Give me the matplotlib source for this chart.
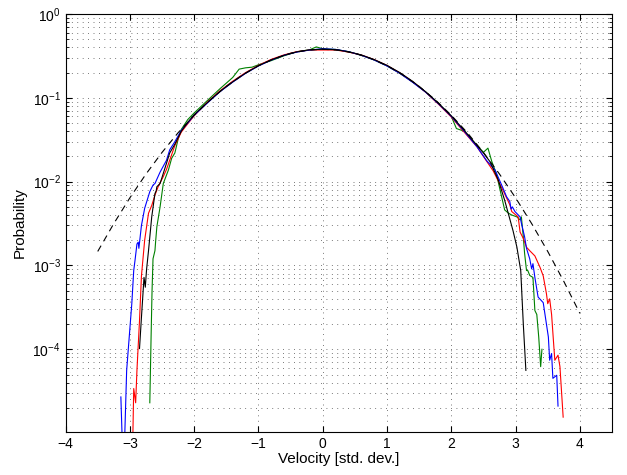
import numpy as np
import matplotlib
matplotlib.use("Agg")
import matplotlib.pyplot as plt
from matplotlib.ticker import LogLocator, NullFormatter, FixedLocator

plt.rcParams['font.family'] = ['Liberation Sans', 'DejaVu Sans']

#----------------------------------------------------------------------
# data (x in std. dev., y probability)
#----------------------------------------------------------------------
blue_x = [-3.14, -3.11, -3.09, -3.05, -3.01, -2.97, -2.94, -2.92, -2.89, -2.87, -2.86,
          -2.82, -2.77, -2.69, -2.64, -2.61, -2.53, -2.43, -2.38, -2.3, -2.2, -2.1,
          -2.0, -1.8, -1.6, -1.4, -1.2, -1.0, -0.8, -0.6, -0.4, -0.2, 0.0, 0.2, 0.4,
          0.6, 0.8, 1.0, 1.2, 1.4, 1.6, 1.8, 2.0, 2.2, 2.4, 2.55, 2.68, 2.8, 2.86,
          2.91, 2.93, 2.95, 2.99, 3.07, 3.09, 3.14, 3.17, 3.22, 3.25, 3.27, 3.30,
          3.35, 3.43, 3.51, 3.53, 3.56, 3.58, 3.64, 3.66]
blue_y = [2.7e-5, 5e-6, 5e-6, 5.6e-5, 1.4e-4, 3.5e-4, 8.7e-4, 1.15e-3, 1.8e-3, 1.9e-3, 1.6e-3,
          3.0e-3, 4.8e-3, 7.6e-3, 9.1e-3, 9.5e-3, 1.3e-2, 1.8e-2, 2.4e-2, 3.0e-2, 4.1e-2, 5.0e-2,
          6.2e-2, 8.6e-2, 0.118, 0.154, 0.196, 0.240, 0.282, 0.322, 0.352, 0.372, 0.385, 0.378, 0.356,
          0.322, 0.283, 0.240, 0.196, 0.153, 0.117, 0.085, 0.060, 0.040, 0.026, 0.0178, 0.0138, 8.5e-3, 6.6e-3,
          5.8e-3, 4.7e-3, 5.0e-3, 4.4e-3, 3.8e-3, 3.2e-3, 2.2e-3, 1.6e-3, 1.2e-3, 9.1e-4, 1.05e-3, 7.2e-4,
          4.2e-4, 3.6e-4, 1.4e-4, 7.4e-5, 8.9e-5, 4.5e-5, 4.9e-5, 2.1e-5]

red_x = [-2.96, -2.94, -2.91, -2.89, -2.85, -2.82, -2.77, -2.71, -2.66, -2.61, -2.56, -2.48,
         -2.43, -2.35, -2.3, -2.2, -2.1, -2.0, -1.8, -1.6, -1.4, -1.2, -1.0, -0.8, -0.6,
         -0.4, -0.2, 0.0, 0.2, 0.4, 0.6, 0.8, 1.0, 1.2, 1.4, 1.6, 1.8, 2.0, 2.2, 2.4,
         2.55, 2.65, 2.8, 2.91, 2.94, 3.04, 3.07, 3.12, 3.17, 3.22, 3.30, 3.38, 3.43,
         3.48, 3.50, 3.53, 3.56, 3.61, 3.66, 3.69, 3.74]
red_y = [5e-6, 3.4e-5, 2.3e-5, 5.6e-5, 2.2e-4, 7.5e-4, 2.0e-3, 4.2e-3, 5.2e-3, 6.9e-3, 8.7e-3, 1.15e-2,
         1.4e-2, 2.1e-2, 2.7e-2, 3.9e-2, 4.9e-2, 6.1e-2, 8.8e-2, 0.121, 0.158, 0.200, 0.244, 0.288, 0.326,
         0.356, 0.372, 0.372, 0.372, 0.352, 0.324, 0.286, 0.243, 0.198, 0.155, 0.117, 0.084, 0.059, 0.039, 0.026,
         0.0175, 0.0135, 8.0e-3, 5.3e-3, 4.4e-3, 3.8e-3, 2.5e-3, 2.1e-3, 1.65e-3, 1.5e-3, 1.3e-3, 9.5e-4, 7.5e-4,
         4.6e-4, 3.5e-4, 4.0e-4, 2.6e-4, 7.4e-5, 8.5e-5, 6.2e-5, 1.55e-5]

black_x = [-2.85, -2.82, -2.78, -2.76, -2.74, -2.71, -2.66, -2.61, -2.59, -2.58, -2.53, -2.43,
           -2.38, -2.3, -2.2, -2.1, -2.0, -1.8, -1.6, -1.4, -1.2, -1.0, -0.8, -0.6, -0.4,
           -0.2, 0.0, 0.2, 0.4, 0.6, 0.8, 1.0, 1.2, 1.4, 1.6, 1.8, 2.0, 2.2, 2.4, 2.5,
           2.6, 2.73, 2.83, 2.96, 3.02, 3.08, 3.12, 3.16]
black_y = [1.02e-4, 2.4e-4, 7.2e-4, 5.5e-4, 9.0e-4, 1.5e-3, 3.8e-3, 7.2e-3, 7.8e-3, 8.7e-3, 9.5e-3, 1.66e-2,
           2.2e-2, 2.8e-2, 4.0e-2, 5.1e-2, 6.3e-2, 8.7e-2, 0.119, 0.155, 0.197, 0.241, 0.284, 0.322, 0.354,
           0.374, 0.380, 0.375, 0.355, 0.325, 0.286, 0.244, 0.200, 0.157, 0.118, 0.086, 0.061, 0.041, 0.027, 0.022,
           0.0174, 1.05e-2, 6.0e-3, 2.6e-3, 1.66e-3, 8.7e-4, 2.0e-4, 5.6e-5]

green_x = [-2.69, -2.67, -2.655, -2.64, -2.61, -2.60, -2.58, -2.53, -2.48, -2.40, -2.35, -2.30,
           -2.25, -2.2, -2.1, -2.0, -1.8, -1.6, -1.4, -1.3, -1.2, -1.1, -1.0, -0.8, -0.6,
           -0.4, -0.2, -0.1, 0.0, 0.2, 0.4, 0.6, 0.8, 1.0, 1.2, 1.4, 1.6, 1.8, 2.0, 2.08,
           2.2, 2.4, 2.5, 2.57, 2.63, 2.7, 2.83, 2.89, 2.94, 3.02, 3.07, 3.09, 3.12, 3.14,
           3.17, 3.19, 3.22, 3.27, 3.30, 3.33, 3.36, 3.39, 3.41]
green_y = [2.3e-5, 1.4e-4, 5e-4, 1.2e-3, 1.5e-3, 1.9e-3, 2.9e-3, 5.0e-3, 9.5e-3, 1.38e-2, 1.9e-2, 2.2e-2,
           3.2e-2, 4.2e-2, 5.5e-2, 6.6e-2, 9.2e-2, 0.128, 0.175, 0.220, 0.228, 0.232, 0.248, 0.278, 0.318,
           0.355, 0.375, 0.405, 0.385, 0.378, 0.355, 0.322, 0.283, 0.240, 0.196, 0.154, 0.118, 0.086, 0.060, 0.043,
           0.040, 0.027, 0.0224, 0.0251, 0.0174, 0.0125, 4.6e-3, 4.2e-3, 4.0e-3, 3.8e-3, 3.5e-3, 3.8e-3, 2.2e-3, 1.4e-3,
           8.7e-4, 8.7e-4, 7.6e-4, 7.2e-4, 2.9e-4, 2.6e-4, 1.4e-4, 6.2e-5, 1.0e-4]

gauss_x = [-3.5, -3.25, -3.0, -2.75, -2.5, -2.25, -2.0, -1.75, -1.5, -1.25, -1.0, -0.75, -0.5,
           -0.25, 0.0, 0.25, 0.5, 0.75, 1.0, 1.25, 1.5, 1.75, 2.0, 2.25, 2.5, 2.75, 3.0,
           3.25, 3.5, 3.75, 4.0]
gauss_y = [1.47e-3, 3.16e-3, 6.41e-3, 1.23e-2, 2.23e-2, 3.83e-2, 0.0620, 0.0948, 0.137, 0.187, 0.242, 0.294, 0.340,
           0.370, 0.380, 0.370, 0.340, 0.294, 0.242, 0.187, 0.137, 0.0948, 0.0620, 3.83e-2, 2.23e-2, 1.23e-2, 6.41e-3,
           3.16e-3, 1.47e-3, 6.46e-4, 2.68e-4]

ytick_vals = [1e-4, 1e-3, 1e-2, 1e-1, 1e0]
xtick_vals = [-4, -3, -2, -1, 0, 1, 2, 3, 4]

#----------------------------------------------------------------------
# plot
#----------------------------------------------------------------------
fig = plt.figure(figsize=(6.27, 4.75), dpi=100)
ax = fig.add_axes([0.1046, 0.0905, 0.8715, 0.880])

lw = 0.8
ax.plot(green_x, green_y, color=(0, 0.5, 0), lw=lw)
ax.plot(red_x, red_y, color='r', lw=lw)
ax.plot(blue_x, blue_y, color='b', lw=lw)
ax.plot(black_x, black_y, color='k', lw=lw)
ax.plot(gauss_x, gauss_y, color='k', lw=lw, linestyle=(0, (6, 4.5)))

ax.set_yscale('log')
ax.set_xlim(-4, 4.5)
ax.set_ylim(1.03e-5, 1)
ax.xaxis.set_major_locator(FixedLocator(xtick_vals))
ax.set_xticklabels(['\u2212%d' % -v if v < 0 else '%d' % v for v in xtick_vals])
ax.yaxis.set_major_locator(FixedLocator(ytick_vals))
ax.yaxis.set_minor_locator(LogLocator(base=10, subs=np.arange(2, 10)))
ax.yaxis.set_minor_formatter(NullFormatter())

grid_style = dict(color='0.3', linestyle=(0, (1, 5.5)), linewidth=0.6)
ax.grid(True, which='major', axis='both', **grid_style)
ax.grid(True, which='minor', axis='y', **grid_style)

ax.tick_params(which='both', direction='in', top=True, right=True, labelsize=10)
ax.tick_params(which='major', length=4)
ax.tick_params(which='minor', length=2)
for s in ax.spines.values():
    s.set_linewidth(0.8)

ax.set_xlabel("Velocity [std. dev.]", fontsize=11, labelpad=1)
ax.set_ylabel("Probability", fontsize=11, labelpad=4)

fig.savefig("out.png", dpi=100)
